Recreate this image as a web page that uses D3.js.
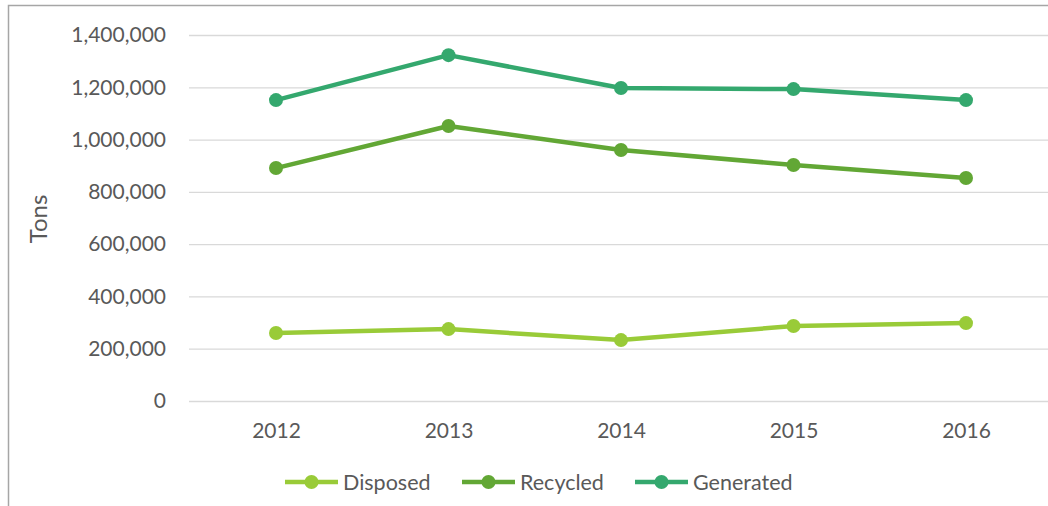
<!DOCTYPE html>
<html>
<head>
<meta charset="utf-8">
<script src="https://cdn.jsdelivr.net/npm/d3@7"></script>
<style>
    body { margin: 0; background: #fff; }
    svg { display: block; }
</style>
</head>
<body>
<div id="chart"></div>
<script>
const years = ["2012", "2013", "2014", "2015", "2016"];
const disposed = [260000, 275000, 233000, 287000, 298000];
const recycled = [891000, 1052000, 960000, 903000, 853000];
const generated = [1151000, 1323000, 1197000, 1193000, 1151000];
const yTicks = [0, 200000, 400000, 600000, 800000, 1000000, 1200000, 1400000];

const seriesNames = ["Disposed", "Recycled", "Generated"];
const seriesColors = ["#99cb38", "#62a735", "#34a86e"];

function drawLineChart() {
    const width = 1048;
    const height = 506;

    const series = [disposed, recycled, generated].map((values, i) => ({
        name: seriesNames[i],
        color: seriesColors[i],
        values: values
    }));

    const svg = d3.select('#chart')
        .append('svg')
        .attr('width', width)
        .attr('height', height);

    // outer frame of the figure
    svg.append('rect')
        .attr('x', 8.5)
        .attr('y', 5.5)
        .attr('width', width + 20)
        .attr('height', height + 20)
        .attr('fill', 'none')
        .attr('stroke', '#a6a6a6')
        .attr('stroke-width', 1.5);

    // creating the scales

    const xScale = d3.scalePoint()
        .domain(years)
        .range([189.75, 1052.25])
        .padding(0.5);

    const yScale = d3.scaleLinear()
        .domain([0, 1400000])
        .range([401, 35]);

    // gridlines + y labels
    const yAxis = d3.axisLeft(yScale)
        .tickValues(yTicks)
        .tickFormat(d3.format(","))
        .tickSize(-(1052 - 189))
        .tickPadding(23);

    const gy = svg.append('g')
        .attr('transform', 'translate(189, 0)')
        .call(yAxis);
    gy.select('.domain').remove();
    gy.selectAll('.tick line')
        .attr('stroke', '#d9d9d9')
        .attr('stroke-width', 1.3);
    gy.selectAll('.tick text')
        .attr('fill', '#595959')
        .style('font-family', 'Lato, sans-serif')
        .style('font-size', '21px');

    const xAxis = d3.axisBottom(xScale).tickSize(0).tickPadding(22);
    const gx = svg.append('g')
        .attr('transform', 'translate(0, 401)')
        .call(xAxis);
    gx.select('.domain').remove();
    gx.selectAll('.tick text')
        .attr('fill', '#595959')
        .style('font-family', 'Lato, sans-serif')
        .style('font-size', '21px');

    svg.append('text')
        .attr('transform', 'translate(47, 219) rotate(-90)')
        .attr('text-anchor', 'middle')
        .attr('fill', '#595959')
        .style('font-family', 'Lato, sans-serif')
        .style('font-size', '24px')
        .text('Tons');

    // rendering the lines

    const line = d3.line()
        .x((d, i) => xScale(years[i]))
        .y(d => yScale(d));

    const groups = svg.selectAll('.series')
        .data(series)
        .enter()
        .append('g')
        .attr('class', 'series');

    groups.append('path')
        .attr('d', d => line(d.values))
        .attr('fill', 'none')
        .attr('stroke', d => d.color)
        .attr('stroke-width', 4.5)
        .attr('stroke-linejoin', 'round');

    groups.selectAll('circle')
        .data(d => d.values.map(v => ({ v: v, color: d.color })))
        .enter()
        .append('circle')
        .attr('cx', (d, i) => xScale(years[i]))
        .attr('cy', d => yScale(d.v))
        .attr('r', 7)
        .attr('fill', d => d.color);

    // legend
    const legendX = [285, 462, 635];
    const legend = svg.selectAll('.legend')
        .data(series)
        .enter()
        .append('g')
        .attr('class', 'legend')
        .attr('transform', (d, i) => `translate(${legendX[i]}, 482)`);

    legend.append('line')
        .attr('x1', 0)
        .attr('x2', 53)
        .attr('stroke', d => d.color)
        .attr('stroke-width', 4.5);

    legend.append('circle')
        .attr('cx', 26.5)
        .attr('r', 7)
        .attr('fill', d => d.color);

    legend.append('text')
        .attr('x', 58)
        .attr('dy', '0.35em')
        .attr('fill', '#595959')
        .style('font-family', 'Lato, sans-serif')
        .style('font-size', '21.5px')
        .text(d => d.name);
}

drawLineChart();
</script>
</body>
</html>
